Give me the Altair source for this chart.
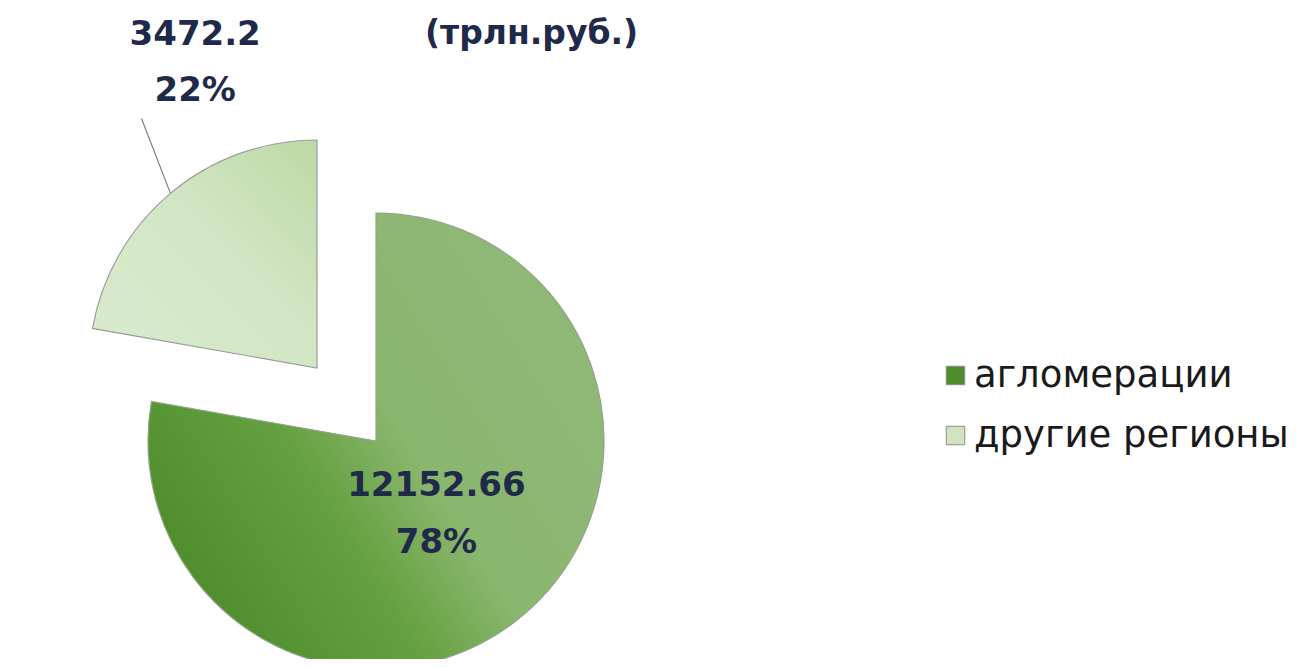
import math
import altair as alt
import pandas as pd

# ---- data ----
categories = ["агломерации", "другие регионы"]
values = [12152.66, 3472.2]
value_labels = ["12152.66", "3472.2"]
percent_labels = ["78%", "22%"]
unit_title = ["(трлн.руб.)"]

df = pd.DataFrame({
    "category": categories,
    "value": values,
    "vlabel": value_labels,
    "plabel": percent_labels,
    "order": list(range(len(categories))),
})
total = float(sum(values))

# ---- layout constants (pixels in the plot area) ----
W, H = 1287, 651
R = 228
C_MAIN = (368, 433)      # centre of the main slice
C_EXPL = (309, 360)      # centre of the exploded slice
TXT = "#1f2a4a"
FONT = "DejaVu Sans"

base = alt.Chart(df).transform_window(
    cum="sum(value)", sort=[alt.SortField("order")], frame=[None, 0]
).transform_calculate(
    start="datum.cum - datum.value",
    end="datum.cum",
    mid_a=f"(datum.cum - datum.value / 2) / {total} * 2 * PI",
    label="datum.vlabel + '\\n' + datum.plabel",
)

theta = alt.Theta("start:Q", scale=alt.Scale(domain=[0, total], range=[0, 2 * math.pi]))
theta2 = alt.Theta2("end:Q")

color_scale = alt.Scale(domain=categories, range=["#4f8c2c", "#cfe4bf"])

legend = alt.Legend(
    title=None, orient="none", legendX=929, legendY=349,
    labelFont=FONT, labelFontSize=37, labelColor="#1a1a1a", labelLimit=0,
    symbolType="square", symbolSize=340, symbolStrokeColor="#8c8c8c",
    symbolStrokeWidth=1, labelOffset=0, rowPadding=22,
)

grad_main = alt.LinearGradient(
    gradient="linear", x1=0.05, y1=0.85, x2=0.85, y2=0.35,
    stops=[alt.GradientStop(offset=0, color="#4c8a29"),
           alt.GradientStop(offset=0.42, color="#64a03f"),
           alt.GradientStop(offset=0.66, color="#8ab66d"),
           alt.GradientStop(offset=1, color="#8fb775")],
)
grad_expl = alt.LinearGradient(
    gradient="linear", x1=0, y1=1, x2=1, y2=0,
    stops=[alt.GradientStop(offset=0, color="#d9ebce"),
           alt.GradientStop(offset=0.55, color="#d2e6c4"),
           alt.GradientStop(offset=1, color="#bcd9a5")],
)


def slice_layers(cat, centre, grad, stroke):
    sub = base.transform_filter(alt.datum.category == cat)
    solid = sub.mark_arc(x=centre[0], y=centre[1], radius=R).encode(
        theta=theta, theta2=theta2,
        color=alt.Color("category:N", scale=color_scale, legend=legend),
    )
    shaded = sub.mark_arc(
        x=centre[0], y=centre[1], radius=R, fill=grad,
        stroke=stroke, strokeWidth=1.2,
    ).encode(theta=theta, theta2=theta2)
    return [solid, shaded]


def polar(centre, r, shift=0.0):
    return (f"{centre[0]} + {r} * sin(datum.mid_a + {shift})",
            f"{centre[1]} - {r} * cos(datum.mid_a + {shift})")


layers = []
layers += slice_layers(categories[0], C_MAIN, grad_main, "#94a68c")
layers += slice_layers(categories[1], C_EXPL, grad_expl, "#9c9c9c")

# label inside main slice
lx, ly = polar(C_MAIN, 94)
main_label = base.transform_filter(alt.datum.category == categories[0]).transform_calculate(
    lx=lx, ly=ly
).mark_text(
    font=FONT, fontWeight="bold", fontSize=34, color=TXT, lineBreak="\n",
    lineHeight=57, baseline="middle", align="center", dy=-27,
).encode(x=alt.X("lx:Q", scale=None), y=alt.Y("ly:Q", scale=None), text="label:N")

# leader line + outside label for exploded slice
ix, iy = polar(C_EXPL, R)
ox, oy = polar(C_EXPL, 305, 0.085)
tx, ty = polar(C_EXPL, 330, 0.32)
expl = base.transform_filter(alt.datum.category == categories[1]).transform_calculate(
    ix=ix, iy=iy, ox=ox, oy=oy, tx=tx, ty=ty
)
leader = expl.mark_rule(color="#7f7f7f", strokeWidth=1.2).encode(
    x=alt.X("ix:Q", scale=None), y=alt.Y("iy:Q", scale=None),
    x2="ox:Q", y2="oy:Q",
)
out_label = expl.mark_text(
    font=FONT, fontWeight="bold", fontSize=34, color=TXT, lineBreak="\n",
    lineHeight=56, baseline="middle", align="center", dy=-26,
).encode(x=alt.X("tx:Q", scale=None), y=alt.Y("ty:Q", scale=None), text="label:N")

title = alt.Chart(pd.DataFrame({"t": unit_title})).mark_text(
    font=FONT, fontWeight="bold", fontSize=33, color=TXT, align="left", baseline="alphabetic",
).encode(x=alt.value(417), y=alt.value(36), text="t:N")

chart = alt.layer(*layers, leader, main_label, out_label, title).properties(
    width=W, height=H,
    autosize=alt.AutoSizeParams(type="fit", contains="padding"),
    padding=0, background="white",
).configure_view(stroke=None)

chart.save("out.html", embed_options={"renderer": "svg", "actions": False})
